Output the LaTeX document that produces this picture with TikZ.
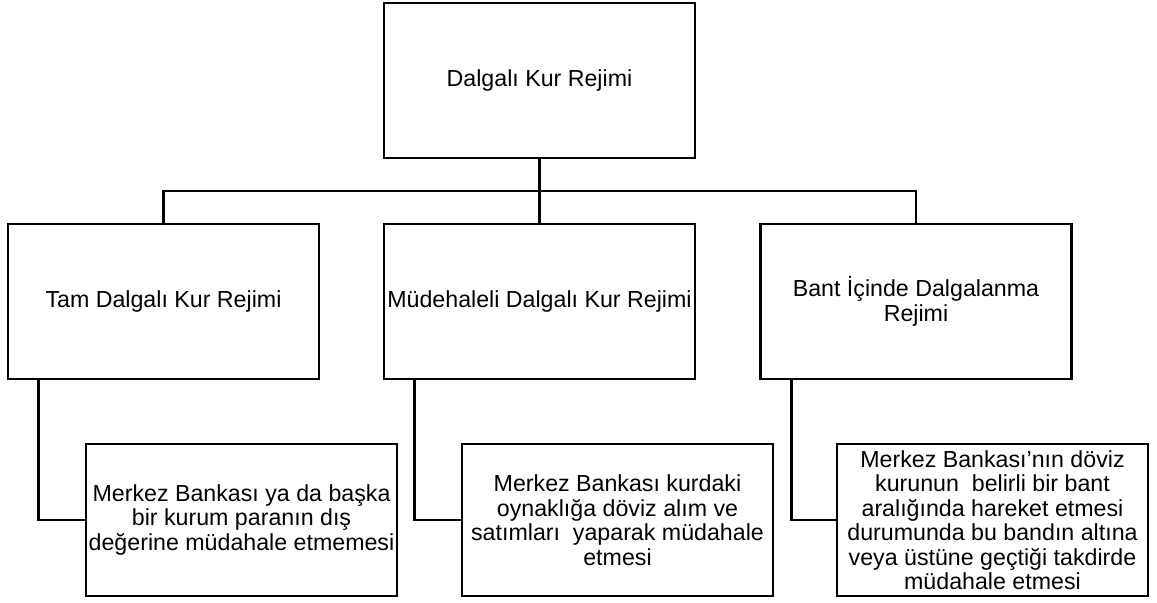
\documentclass[tikz,border=0pt]{standalone}
\usepackage{fontspec}
\setmainfont{Liberation Sans}

\tikzset{
  regbox/.style={draw, line width=1.3pt, minimum width=155.5pt, minimum height=77.5pt,
    inner sep=0pt, align=center, font=\fontsize{11.6}{12.25}\selectfont},
  descbox/.style={regbox, minimum height=76pt},
  link/.style={line width=1.3pt}
}

\begin{document}
\begin{tikzpicture}[x=0.5pt, y=-0.5pt]
  \useasboundingbox (0,0) rectangle (1157,603);
  % top box
  \node[regbox] (kur) at (539.5,80.5) {Dalgalı Kur Rejimi};
  % regimes
  \node[regbox] (tam)  at (163.5,301.5) {Tam Dalgalı Kur Rejimi};
  \node[regbox] (mud)  at (539.5,301.5) {Müdehaleli Dalgalı Kur Rejimi};
  \node[regbox] (bant) at (916,301.5)   {Bant İçinde Dalgalanma\\Rejimi};
  % descriptions
  \node[descbox] (tamdesc)  at (241.5,520) {Merkez Bankası ya da başka\\bir kurum paranın dış\\değerine müdahale etmemesi};
  \node[descbox] (muddesc)  at (617.5,520) {Merkez Bankası kurdaki\\oynaklığa döviz alım ve\\satımları~ yaparak müdahale\\etmesi};
  \node[descbox] (bantdesc) at (992.5,520) {Merkez Bankası’nın döviz\\kurunun~ belirli bir bant\\aralığında hareket etmesi\\durumunda bu bandın altına\\veya üstüne geçtiği takdirde\\müdahale etmesi};
  % tree
  \coordinate (bus) at (539.5,191);
  \draw[link] (kur.south) -- (bus);
  \draw[link] (tam.north) |- (bus) -| (bant.north);
  \draw[link] (bus) -- (mud.north);
  \foreach \p in {tam, mud, bant}
    \draw[link] ([xshift=16pt]\p.south west) |- (\p desc.west);
\end{tikzpicture}
\end{document}
